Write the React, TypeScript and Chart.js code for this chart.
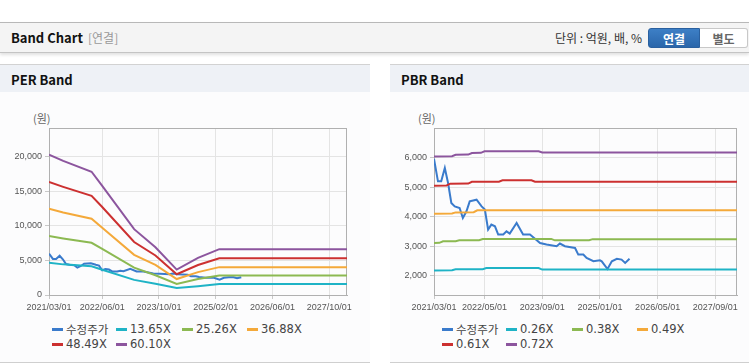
import React, { useEffect, useRef } from "react";
import { Chart, registerables } from "chart.js";
Chart.register(...registerables);

// ---------- DATA ----------
// x = months since 2021/03/01
const perTickMonths = [0, 15, 31, 47, 63, 79];
const perTickLabels = ["2021/03/01", "2022/06/01", "2023/10/01", "2025/02/01", "2026/06/01", "2027/10/01"];
const pbrTickMonths = [0, 14, 30, 46, 62, 78];
const pbrTickLabels = ["2021/03/01", "2022/05/01", "2023/09/01", "2025/01/01", "2026/05/01", "2027/09/01"];

const perYTicks = [0, 5000, 10000, 15000, 20000];
const pbrYTicks = [2000, 3000, 4000, 5000, 6000];

const priceMonths = [0, 1.1, 2, 3, 3.9, 4.8, 5.75, 7.1, 8, 9, 9.9, 11.8, 13.2, 14.1, 15, 15.9, 16.9, 17.8, 19.2, 20.1, 21, 22.9, 24.7, 26.6, 28, 29.4, 31.2, 34, 34.9, 36.3, 39.1, 40, 41.4, 42.3, 44.2, 46, 46.5, 48.1, 49.3, 50.7, 52, 53, 54.2];
const priceValues = [5970, 5205, 5205, 5660, 5150, 4470, 4355, 4300, 3960, 4185, 4525, 4580, 4355, 4245, 3565, 3735, 3675, 3395, 3395, 3505, 3430, 3790, 3395, 3395, 3250, 3110, 3055, 3000, 3090, 3000, 2940, 2715, 2715, 2600, 2490, 2520, 2485, 2225, 2485, 2570, 2545, 2430, 2570];

const perBandMonths = [0, 4, 12, 15, 24, 30, 36, 42, 48, 84];
const per1365 = [4640, 4420, 4140, 3650, 2180, 1620, 1000, 1280, 1580, 1580];
const per2526 = [8500, 8150, 7530, 6650, 3950, 2850, 1600, 2300, 2830, 2830];
const per3688 = [12450, 11900, 11000, 9700, 5800, 4350, 2300, 3300, 4020, 4020];
const per4849 = [16300, 15600, 14300, 12700, 7650, 5700, 3000, 4330, 5310, 5310];
const per6010 = [20250, 19350, 17790, 15750, 9500, 6900, 3670, 5350, 6610, 6610];

const pbr026Months = [0, 5, 6, 13.5, 14.5, 29, 30, 84];
const pbr026 = [2175, 2180, 2215, 2220, 2255, 2258, 2205, 2205];
const pbr038Months = [0, 1.5, 2.5, 6, 7, 12.5, 13.5, 32.5, 33.5, 43, 44, 84];
const pbr038 = [3110, 3115, 3165, 3170, 3200, 3205, 3245, 3248, 3200, 3205, 3240, 3240];
const pbr049Months = [0, 5, 6, 11, 12, 84];
const pbr049 = [4105, 4110, 4150, 4155, 4220, 4220];
const pbr061Months = [0, 3.5, 4.5, 9.5, 10.5, 18, 19, 27, 28, 84];
const pbr061 = [5060, 5065, 5125, 5130, 5190, 5195, 5240, 5240, 5195, 5195];
const pbr072Months = [0, 5, 6, 9.5, 10.5, 13, 14, 29, 30, 84];
const pbr072 = [6050, 6060, 6110, 6115, 6170, 6175, 6225, 6230, 6190, 6190];

const perLegend = ["수정주가", "13.65X", "25.26X", "36.88X", "48.49X", "60.10X"];
const pbrLegend = ["수정주가", "0.26X", "0.38X", "0.49X", "0.61X", "0.72X"];
const seriesColors = ["#3a7bcc", "#1fb3c6", "#8cb952", "#f4a93a", "#cc3030", "#8c559e"];

// ---------- HELPERS ----------
const pts = (xs: number[], ys: number[]) => xs.map((x, i) => ({ x, y: ys[i] }));

const FONT = "'Liberation Sans', Arial, sans-serif";
const KFONT = "'DejaVu Sans', 'Noto Sans CJK KR', sans-serif";

const framePlugin = {
  id: "frame",
  beforeDatasetsDraw(chart: any) {
    const { ctx, chartArea: a } = chart;
    ctx.save();
    ctx.strokeStyle = "#b0b0b0";
    ctx.lineWidth = 1;
    ctx.strokeRect(Math.round(a.left) + 0.5, Math.round(a.top) + 0.5, Math.round(a.right - a.left) - 1, Math.round(a.bottom - a.top));
    ctx.restore();
  },
};

type Props = {
  series: { x: number; y: number }[][];
  tickMonths: number[];
  tickLabels: string[];
  yTicks: number[];
  yMin: number;
  yMax: number;
  yWidth: number;
  padRight: number;
  width: number;
};

function BandCanvas(p: Props) {
  const ref = useRef<HTMLCanvasElement>(null);
  useEffect(() => {
    if (!ref.current) return;
    const datasets = p.series.map((d, i) => ({
      data: d,
      borderColor: seriesColors[i],
      backgroundColor: seriesColors[i],
      borderWidth: 2,
      pointRadius: 0,
      tension: 0,
      order: i === 0 ? 10 : 6 - i,
    }));
    const chart = new Chart(ref.current, {
      type: "line",
      data: { datasets },
      plugins: [framePlugin],
      options: {
        animation: false,
        responsive: false,
        devicePixelRatio: 1,
        parsing: false as any,
        layout: { padding: { top: 33, right: p.padRight, left: 0, bottom: 0 } },
        plugins: { legend: { display: false }, tooltip: { enabled: false } },
        scales: {
          x: {
            type: "linear",
            min: 0,
            max: 84,
            afterBuildTicks: (s: any) => {
              s.ticks = p.tickMonths.map((v) => ({ value: v }));
            },
            afterFit: (s: any) => {
              s.height = 20;
            },
            ticks: {
              autoSkip: false,
              maxRotation: 0,
              padding: 3,
              color: "#555",
              font: { family: FONT, size: 9 },
              callback: (v: any) => {
                const i = p.tickMonths.indexOf(Number(v));
                return i >= 0 ? p.tickLabels[i] : "";
              },
            },
            grid: { color: "#e4e4e4", tickColor: "#c8c8c8", tickLength: 4 },
            border: { color: "#b0b0b0" },
          },
          y: {
            type: "linear",
            min: p.yMin,
            max: p.yMax,
            afterBuildTicks: (s: any) => {
              s.ticks = p.yTicks.map((v) => ({ value: v }));
            },
            afterFit: (s: any) => {
              s.width = p.yWidth;
            },
            ticks: {
              padding: 3,
              color: "#555",
              font: { family: FONT, size: 9 },
              callback: (v: any) => Number(v).toLocaleString("en-US"),
            },
            grid: { color: "#e4e4e4", tickColor: "#c8c8c8", tickLength: 4 },
            border: { color: "#b0b0b0" },
          },
        },
      } as any,
    });
    return () => chart.destroy();
  }, []);
  return <canvas ref={ref} width={p.width} height={220} style={{ display: "block" }} />;
}

function Legend({ names, left }: { names: string[]; left: number }) {
  const cols = [0, 64, 130, 195];
  return (
    <>
      {names.map((n, i) => {
        const row = Math.floor(i / 4);
        const col = i % 4;
        return (
          <div
            key={n}
            style={{
              position: "absolute",
              left: left + cols[col],
              top: 321 + row * 15,
              height: 16,
              display: "flex",
              alignItems: "center",
              whiteSpace: "nowrap",
            }}
          >
            <span style={{ display: "inline-block", width: 11, height: 3, background: seriesColors[i], marginRight: 3 }} />
            <span style={{ fontFamily: KFONT, fontSize: 11.5, color: "#444" }}>{n}</span>
          </div>
        );
      })}
    </>
  );
}

function Panel({ left, width, title }: { left: number; width: number; title: string }) {
  return (
    <>
      <div
        style={{
          position: "absolute",
          left,
          top: 64,
          width,
          height: 28,
          borderTop: "1px solid #d2d2d2",
          background: "#eef1f6",
          boxSizing: "border-box",
        }}
      >
        <div style={{ position: "absolute", left: 11, top: 5, fontFamily: "'Noto Sans CJK KR', sans-serif", fontWeight: 700, fontSize: 13, color: "#111" }}>
          {title}
        </div>
      </div>
      <div
        style={{
          position: "absolute",
          left,
          top: 92,
          width,
          height: 271,
          background: "#fcfcfd",
          borderBottom: "1px solid #cfcfcf",
          boxSizing: "border-box",
        }}
      />
    </>
  );
}

export default function App() {
  const perSeries = [
    pts(priceMonths, priceValues),
    pts(perBandMonths, per1365),
    pts(perBandMonths, per2526),
    pts(perBandMonths, per3688),
    pts(perBandMonths, per4849),
    pts(perBandMonths, per6010),
  ];
  const pbrSeries = [
    pts(priceMonths, priceValues),
    pts(pbr026Months, pbr026),
    pts(pbr038Months, pbr038),
    pts(pbr049Months, pbr049),
    pts(pbr061Months, pbr061),
    pts(pbr072Months, pbr072),
  ];
  const kfont = "'Noto Sans CJK KR', sans-serif";
  return (
    <div style={{ position: "relative", width: 749, height: 364, background: "#fff", overflow: "hidden" }}>
      <style>{`body{margin:0;}`}</style>
      {/* header */}
      <div
        style={{
          position: "absolute",
          left: 0,
          top: 22,
          width: 749,
          height: 31,
          borderTop: "1px solid #b8b8b8",
          borderBottom: "1px solid #c4c4c4",
          background: "#f4f4f4",
          boxSizing: "border-box",
          boxShadow: "0 2px 3px rgba(0,0,0,0.12)",
        }}
      >
        <div style={{ position: "absolute", left: 11, top: 5, fontFamily: kfont, fontWeight: 700, fontSize: 13, color: "#111" }}>
          Band Chart
        </div>
        <div style={{ position: "absolute", left: 88, top: 6, fontFamily: kfont, fontSize: 12, color: "#999" }}>[연결]</div>
        <div style={{ position: "absolute", right: 107, top: 6, fontFamily: kfont, fontSize: 12, color: "#333" }}>단위 : 억원, 배, %</div>
        <div
          style={{
            position: "absolute",
            left: 648,
            top: 5,
            width: 52,
            height: 20,
            boxSizing: "border-box",
            background: "linear-gradient(#3d7fc6, #2a66aa)",
            border: "1px solid #2a609f",
            borderRadius: "3px 0 0 3px",
            color: "#fff",
            fontFamily: kfont,
            fontWeight: 700,
            fontSize: 12,
            display: "flex",
            alignItems: "center",
            justifyContent: "center",
          }}
        >
          연결
        </div>
        <div
          style={{
            position: "absolute",
            left: 700,
            top: 5,
            width: 48,
            height: 20,
            boxSizing: "border-box",
            background: "#fff",
            border: "1px solid #c8c8c8",
            borderLeft: "none",
            borderRadius: "0 3px 3px 0",
            color: "#666",
            fontFamily: kfont,
            fontWeight: 700,
            fontSize: 12,
            display: "flex",
            alignItems: "center",
            justifyContent: "center",
          }}
        >
          별도
        </div>
      </div>

      <Panel left={0} width={370} title="PER Band" />
      <Panel left={390} width={359} title="PBR Band" />

      <div style={{ position: "absolute", left: 33, top: 110, fontFamily: kfont, fontSize: 11, color: "#666" }}>(원)</div>
      <div style={{ position: "absolute", left: 418, top: 110, fontFamily: kfont, fontSize: 11, color: "#666" }}>(원)</div>

      <div style={{ position: "absolute", left: 0, top: 95 }}>
        <BandCanvas
          series={perSeries}
          tickMonths={perTickMonths}
          tickLabels={perTickLabels}
          yTicks={perYTicks}
          yMin={0}
          yMax={24100}
          yWidth={49}
          padRight={23}
          width={370}
        />
      </div>
      <div style={{ position: "absolute", left: 390, top: 95 }}>
        <BandCanvas
          series={pbrSeries}
          tickMonths={pbrTickMonths}
          tickLabels={pbrTickLabels}
          yTicks={pbrYTicks}
          yMin={1340}
          yMax={7020}
          yWidth={44}
          padRight={12}
          width={359}
        />
      </div>

      <Legend names={perLegend} left={52} />
      <Legend names={pbrLegend} left={442} />
    </div>
  );
}
